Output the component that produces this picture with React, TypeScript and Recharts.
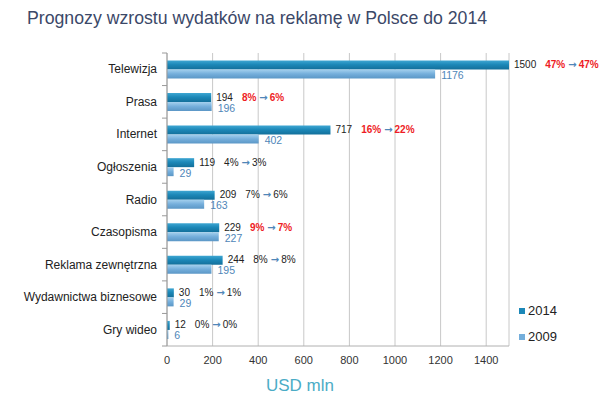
import React from 'react';
import { BarChart, Bar, XAxis, YAxis, CartesianGrid, LabelList } from 'recharts';

const categories = ['Telewizja', 'Prasa', 'Internet', 'Ogłoszenia', 'Radio', 'Czasopisma', 'Reklama zewnętrzna', 'Wydawnictwa biznesowe', 'Gry wideo'];
const values2014 = [1500, 194, 717, 119, 209, 229, 244, 30, 12];
const values2009 = [1176, 196, 402, 29, 163, 227, 195, 29, 6];
const share2009 = ['47%', '8%', '16%', '4%', '7%', '9%', '8%', '1%', '0%'];
const share2014 = ['47%', '6%', '22%', '3%', '6%', '7%', '8%', '1%', '0%'];
const highlighted = [true, true, true, false, false, true, false, false, false];
const xTicks = [0, 200, 400, 600, 800, 1000, 1200, 1400];
const seriesNames = ['2014', '2009'];

const data = categories.map((name, i) => ({
  name,
  v2014: values2014[i],
  v2009: values2009[i],
  s2009: share2009[i],
  s2014: share2014[i],
  hl: highlighted[i],
}));

const FONT = 'Arial, "Liberation Sans", sans-serif';
const CHART_W = 601;
const CHART_H = 397;
const MARGIN = { top: 53, right: 92, bottom: 27, left: 0 };
const X_AXIS_H = 24;
const Y_AXIS_W = 167;
const TICK_SIZE = 5;
const TICK_MARGIN = 5;
const BAND = (CHART_H - MARGIN.top - MARGIN.bottom - X_AXIS_H) / categories.length;

const YTick = (props: any) => {
  const { x, y, payload, index } = props;
  const lx1 = x + TICK_MARGIN;
  const lx2 = lx1 + TICK_SIZE;
  return (
    <g>
      <line x1={lx1} x2={lx2} y1={y - BAND / 2} y2={y - BAND / 2} stroke="#9a9a9a" strokeWidth={1} />
      {index === categories.length - 1 && (
        <line x1={lx1} x2={lx2} y1={y + BAND / 2} y2={y + BAND / 2} stroke="#9a9a9a" strokeWidth={1} />
      )}
      <text x={x} y={y} dy={4} textAnchor="end" fontSize={12} fontFamily={FONT} fill="#222">
        {payload.value}
      </text>
    </g>
  );
};

const Label2014 = (props: any) => {
  const { x, y, width, height, index } = props;
  const d = data[index];
  const col = d.hl ? '#ee1c25' : '#222';
  const fw = d.hl ? 'bold' : 'normal';
  return (
    <text x={x + width + 5} y={y + height / 2 + 3} fontSize={10} fontFamily={FONT} fill="#222">
      <tspan>{d.v2014}</tspan>
      <tspan dx={9} fill={col} fontWeight={fw}>{d.s2009}</tspan>
      <tspan dx={3} fill="#4f86b8" fontWeight="bold" fontFamily="DejaVu Sans" fontSize={10}>→</tspan>
      <tspan dx={2} fill={col} fontWeight={fw}>{d.s2014}</tspan>
    </text>
  );
};

const Label2009 = (props: any) => {
  const { x, y, width, height, index } = props;
  const d = data[index];
  return (
    <text x={x + width + 6} y={y + height / 2 + 5} fontSize={10.5} fontFamily={FONT} fill="#4f86b8">
      {d.v2009}
    </text>
  );
};

export default function App() {
  return (
    <div style={{ position: 'absolute', left: 0, top: 0, width: CHART_W, height: CHART_H, background: '#fff', fontFamily: FONT }}>
      <div style={{ position: 'absolute', left: 27, top: 8, fontSize: 17.7, color: '#3b4868', whiteSpace: 'nowrap' }}>
        Prognozy wzrostu wydatków na reklamę w Polsce do 2014
      </div>
      <BarChart
        width={CHART_W}
        height={CHART_H}
        data={data}
        layout="vertical"
        margin={MARGIN}
        barCategoryGap="23%"
        barGap={0}
      >
        <defs>
          <linearGradient id="g2014" x1="0" y1="0" x2="0" y2="1">
            <stop offset="0%" stopColor="#3ea6d2" />
            <stop offset="45%" stopColor="#1c88b8" />
            <stop offset="100%" stopColor="#136f9a" />
          </linearGradient>
          <linearGradient id="g2009" x1="0" y1="0" x2="0" y2="1">
            <stop offset="0%" stopColor="#a4d0ee" />
            <stop offset="50%" stopColor="#74aedb" />
            <stop offset="100%" stopColor="#5b97c6" />
          </linearGradient>
        </defs>
        <CartesianGrid horizontal={false} stroke="#c8c8c8" />
        <XAxis
          type="number"
          domain={[0, 1500]}
          ticks={xTicks}
          tickLine={false}
          tickSize={0}
          tickMargin={10}
          axisLine={{ stroke: '#b0b0b0' }}
          tick={{ fontSize: 11, fill: '#333', fontFamily: FONT }}
          height={X_AXIS_H}
        />
        <YAxis
          type="category"
          dataKey="name"
          width={Y_AXIS_W}
          tickSize={TICK_SIZE}
          tickMargin={TICK_MARGIN}
          tickLine={false}
          interval={0}
          axisLine={{ stroke: '#9a9a9a' }}
          tick={<YTick />}
        />
        <Bar dataKey="v2014" name={seriesNames[0]} fill="url(#g2014)" isAnimationActive={false}>
          <LabelList dataKey="v2014" content={<Label2014 />} />
        </Bar>
        <Bar dataKey="v2009" name={seriesNames[1]} fill="url(#g2009)" isAnimationActive={false}>
          <LabelList dataKey="v2009" content={<Label2009 />} />
        </Bar>
      </BarChart>
      <div style={{ position: 'absolute', left: 519, top: 298, fontSize: 13, color: '#222', lineHeight: '26px' }}>
        <div style={{ display: 'flex', alignItems: 'center' }}>
          <span style={{ display: 'inline-block', width: 6, height: 6, background: '#1c88b8', marginRight: 3 }} />
          {seriesNames[0]}
        </div>
        <div style={{ display: 'flex', alignItems: 'center' }}>
          <span style={{ display: 'inline-block', width: 6, height: 6, background: '#74aedb', marginRight: 3 }} />
          {seriesNames[1]}
        </div>
      </div>
      <div style={{ position: 'absolute', left: 300, top: 376, transform: 'translateX(-50%)', fontSize: 17, color: '#4bacc6', whiteSpace: 'nowrap' }}>
        USD mln
      </div>
    </div>
  );
}
